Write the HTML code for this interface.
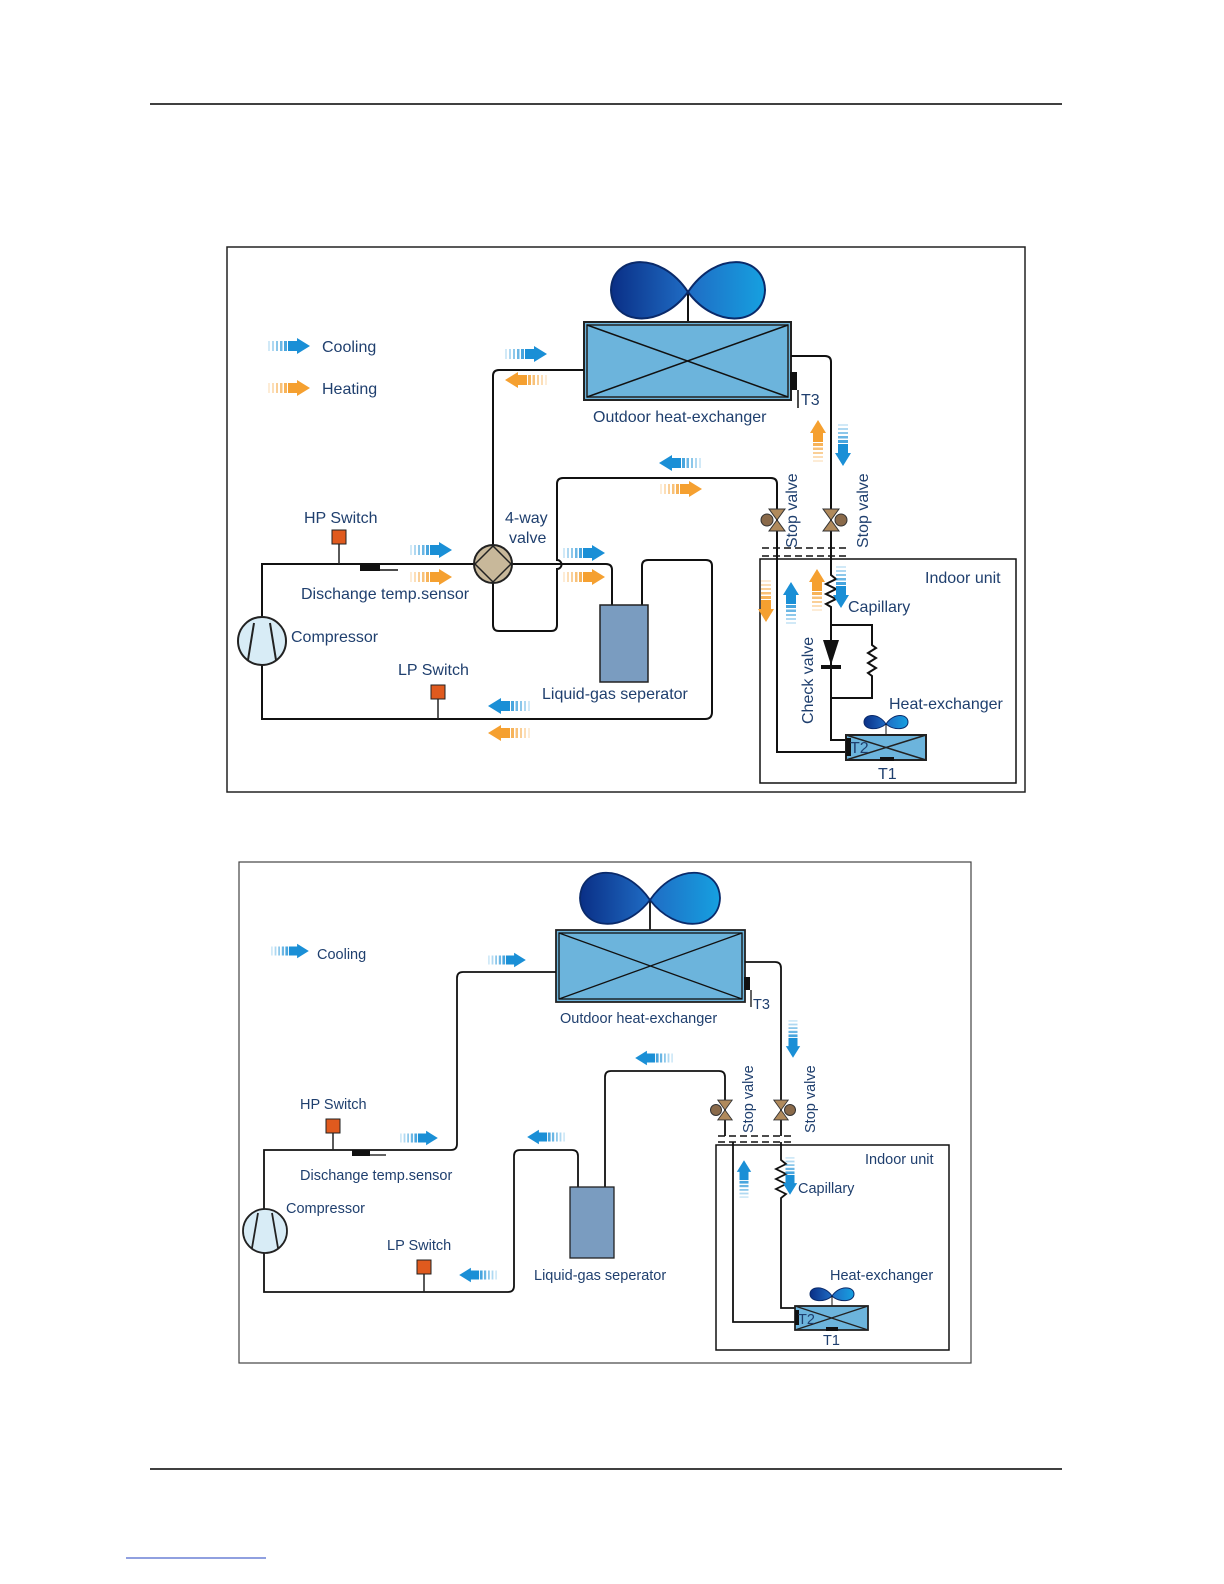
<!DOCTYPE html>
<html><head><meta charset="utf-8"><style>
html,body{margin:0;padding:0;background:#fff}
svg{display:block}
text{font-family:"Liberation Sans",Arial,sans-serif;fill:#1f3f6e}
</style></head><body>
<svg width="1224" height="1584" viewBox="0 0 1224 1584" xmlns="http://www.w3.org/2000/svg">
<defs>
<g id="ab">
<rect x="0" y="-5" width="2" height="10" fill="#1a8fd6" opacity="0.2"/>
<rect x="4" y="-5" width="2" height="10" fill="#1a8fd6" opacity="0.35"/>
<rect x="8" y="-5" width="2" height="10" fill="#1a8fd6" opacity="0.5"/>
<rect x="12" y="-5" width="2.5" height="10" fill="#1a8fd6" opacity="0.65"/>
<rect x="16" y="-5" width="3" height="10" fill="#1a8fd6" opacity="0.8"/>
<rect x="20" y="-5" width="10" height="10" fill="#1a8fd6"/>
<polygon points="29,-8 42,0 29,8" fill="#1a8fd6"/>
</g>
<g id="ao">
<rect x="0" y="-5" width="2" height="10" fill="#f5a030" opacity="0.2"/>
<rect x="4" y="-5" width="2" height="10" fill="#f5a030" opacity="0.35"/>
<rect x="8" y="-5" width="2" height="10" fill="#f5a030" opacity="0.5"/>
<rect x="12" y="-5" width="2.5" height="10" fill="#f5a030" opacity="0.65"/>
<rect x="16" y="-5" width="3" height="10" fill="#f5a030" opacity="0.8"/>
<rect x="20" y="-5" width="10" height="10" fill="#f5a030"/>
<polygon points="29,-8 42,0 29,8" fill="#f5a030"/>
</g>
<linearGradient id="fanL" x1="0" x2="1"><stop offset="0" stop-color="#0a2f86"/><stop offset="1" stop-color="#1f6cc4"/></linearGradient>
<linearGradient id="fanR" x1="0" x2="1"><stop offset="0" stop-color="#1f6cc4"/><stop offset="1" stop-color="#16a0e0"/></linearGradient>
<g id="valve">
<polygon points="-8,-11 8,-11 0,0" fill="#b08a5c" stroke="#333" stroke-width="1"/>
<polygon points="-8,11 8,11 0,0" fill="#b08a5c" stroke="#333" stroke-width="1"/>
</g>
</defs>

<line x1="150" y1="104" x2="1062" y2="104" stroke="#000" stroke-width="1.5"/>
<line x1="150" y1="1469" x2="1062" y2="1469" stroke="#000" stroke-width="1.5"/>
<line x1="126" y1="1558" x2="266" y2="1558" stroke="#2040c0" stroke-width="1"/>

<!-- ============ TOP DIAGRAM ============ -->
<rect x="227" y="247" width="798" height="545" fill="none" stroke="#222" stroke-width="1.5"/>
<g fill="none" stroke="#111" stroke-width="2">
<!-- fan -->
<line x1="688" y1="292" x2="688" y2="322"/>
<path d="M688,292 C660,250 612,255 611,290 C612,325 660,330 688,292Z" fill="url(#fanL)" stroke="#0a2a6a"/>
<path d="M688,292 C716,250 764,255 765,290 C764,325 716,330 688,292Z" fill="url(#fanR)" stroke="#0a2a6a"/>
<!-- outdoor hx -->
<rect x="584" y="322" width="207" height="78" fill="#6cb4dc" stroke="#222"/>
<rect x="587" y="325" width="201" height="72" stroke="#222" stroke-width="1.5"/>
<line x1="587" y1="325" x2="788" y2="397" stroke-width="1.5"/>
<line x1="587" y1="397" x2="788" y2="325" stroke-width="1.5"/>
<!-- right pipe -->
<path d="M791,356 H825 Q831,356 831,362 V548"/>
<!-- left pipe to 4-way -->
<path d="M584,370 H499 Q493,370 493,376 V545"/>
<path d="M493,583 V625 Q493,631 499,631 H551 Q557,631 557,625 V569 A4,4 0 0 0 557,560 V484 Q557,478 563,478 H771 Q777,478 777,484 V752 H846"/>
<!-- 4way to separator -->
<path d="M512,564 H606 Q612,564 612,570 V605"/>
<path d="M642,605 V566 Q642,560 648,560 H706 Q712,560 712,566 V712 Q712,719 705,719 H262 V665"/>
<path d="M262,617 V564 H474"/>
<!-- indoor right -->
<path d="M831,548 V575 l5,4 -10,5 10,5 -10,5 10,5 -10,5 5,3 V740 H846"/>
<path d="M831,625 H872 V645 l4,3 -8,5 8,5 -8,5 8,5 -8,5 4,3 V698 H831"/>
<!-- indoor box -->
<rect x="760" y="559" width="256" height="224" stroke-width="1.5"/>
</g>
<g stroke="#111" stroke-width="1.5" stroke-dasharray="7,4"><line x1="762" y1="548" x2="846" y2="548"/><line x1="762" y1="556" x2="846" y2="556"/></g>
<!-- check valve -->
<polygon points="823,640 839,640 831,665" fill="#111"/>
<rect x="821" y="665" width="20" height="4" fill="#111"/>
<!-- T3 -->
<rect x="790" y="372" width="7" height="18" fill="#111"/>
<line x1="798" y1="390" x2="798" y2="408" stroke="#111" stroke-width="1.5"/>
<!-- 4way valve -->
<circle cx="493" cy="564" r="19" fill="#c8b89a" stroke="#222" stroke-width="2"/>
<polygon points="493,546 511,564 493,582 475,564" fill="#c8b89a" stroke="#222" stroke-width="1.5"/>
<!-- separator -->
<rect x="600" y="605" width="48" height="77" fill="#7a9cc0" stroke="#222" stroke-width="1.5"/>
<!-- compressor -->
<circle cx="262" cy="641" r="24" fill="#d8ecf6" stroke="#222" stroke-width="2"/>
<line x1="248" y1="660" x2="254" y2="623" stroke="#222" stroke-width="2"/>
<line x1="276" y1="660" x2="270" y2="623" stroke="#222" stroke-width="2"/>
<!-- switches -->
<line x1="339" y1="544" x2="339" y2="564" stroke="#222" stroke-width="1.5"/>
<rect x="332" y="530" width="14" height="14" fill="#e05a1e" stroke="#222" stroke-width="1"/>
<line x1="438" y1="699" x2="438" y2="719" stroke="#222" stroke-width="1.5"/>
<rect x="431" y="685" width="14" height="14" fill="#e05a1e" stroke="#222" stroke-width="1"/>
<rect x="360" y="564" width="20" height="7" fill="#111"/>
<line x1="380" y1="570" x2="398" y2="570" stroke="#111" stroke-width="1.5"/>
<!-- stop valves -->
<use href="#valve" transform="translate(777,520)"/>
<circle cx="767" cy="520" r="6" fill="#8a6a4a" stroke="#333"/>
<use href="#valve" transform="translate(831,520)"/>
<circle cx="841" cy="520" r="6" fill="#8a6a4a" stroke="#333"/>
<!-- indoor hx -->
<path d="M886,724 C878,712 864,714 864,722 C864,730 878,731 886,724Z" fill="url(#fanL)" stroke="#0a2a6a"/>
<path d="M886,724 C894,712 908,714 908,722 C908,730 894,731 886,724Z" fill="url(#fanR)" stroke="#0a2a6a"/>
<line x1="886" y1="724" x2="886" y2="735" stroke="#111"/>
<rect x="846" y="735" width="80" height="25" fill="#6cb4dc" stroke="#222" stroke-width="2"/>
<line x1="846" y1="735" x2="926" y2="760" stroke="#222" stroke-width="1.5"/>
<line x1="846" y1="760" x2="926" y2="735" stroke="#222" stroke-width="1.5"/>
<rect x="846" y="738" width="5" height="18" fill="#111"/>
<rect x="880" y="757" width="14" height="4" fill="#111"/>

<g font-size="16">
<text x="322" y="352">Cooling</text>
<text x="322" y="394">Heating</text>
<text x="593" y="422">Outdoor heat-exchanger</text>
<text x="801" y="405">T3</text>
<text x="304" y="523">HP Switch</text>
<text x="505" y="523">4-way</text>
<text x="509" y="543">valve</text>
<text x="301" y="599">Dischange temp.sensor</text>
<text x="291" y="642">Compressor</text>
<text x="398" y="675">LP Switch</text>
<text x="542" y="699">Liquid-gas seperator</text>
<text x="925" y="583">Indoor unit</text>
<text x="848" y="612">Capillary</text>
<text x="889" y="709">Heat-exchanger</text>
<text x="850" y="753">T2</text>
<text x="878" y="779">T1</text>
<text transform="translate(797,548) rotate(-90)">Stop valve</text>
<text transform="translate(868,548) rotate(-90)">Stop valve</text>
<text transform="translate(813,724) rotate(-90)">Check valve</text>
</g>
<!-- top arrows -->
<use href="#ab" transform="translate(268,346)"/>
<use href="#ao" transform="translate(268,388)"/>
<use href="#ab" transform="translate(505,354)"/>
<use href="#ao" transform="translate(547,380) rotate(180)"/>
<use href="#ab" transform="translate(701,463) rotate(180)"/>
<use href="#ao" transform="translate(660,489)"/>
<use href="#ao" transform="translate(818,462) rotate(-90)"/>
<use href="#ab" transform="translate(843,424) rotate(90)"/>
<use href="#ab" transform="translate(410,550)"/>
<use href="#ao" transform="translate(410,577)"/>
<use href="#ab" transform="translate(563,553)"/>
<use href="#ao" transform="translate(563,577)"/>
<use href="#ab" transform="translate(530,706) rotate(180)"/>
<use href="#ao" transform="translate(530,733) rotate(180)"/>
<use href="#ao" transform="translate(766,580) rotate(90)"/>
<use href="#ab" transform="translate(791,624) rotate(-90)"/>
<use href="#ao" transform="translate(817,611) rotate(-90)"/>
<use href="#ab" transform="translate(841,566) rotate(90)"/>

<!-- ============ BOTTOM DIAGRAM ============ -->
<rect x="239" y="862" width="732" height="501" fill="none" stroke="#444" stroke-width="1.2"/>
<g fill="none" stroke="#111" stroke-width="1.8">
<line x1="650" y1="900" x2="650" y2="930"/>
<path d="M650,900 C624,862 581,866 580,898 C581,930 624,934 650,900Z" fill="url(#fanL)" stroke="#0a2a6a"/>
<path d="M650,900 C676,862 719,866 720,898 C719,930 676,934 650,900Z" fill="url(#fanR)" stroke="#0a2a6a"/>
<rect x="556" y="930" width="189" height="72" fill="#6cb4dc" stroke="#222"/>
<rect x="559" y="933" width="183" height="66" stroke-width="1.3"/>
<line x1="559" y1="933" x2="742" y2="999" stroke-width="1.3"/>
<line x1="559" y1="999" x2="742" y2="933" stroke-width="1.3"/>
<path d="M745,962 H775 Q781,962 781,968 V1136"/>
<path d="M556,972 H463 Q457,972 457,978 V1144 Q457,1150 451,1150 H264 V1209"/>
<path d="M264,1253 V1292 H508 Q514,1292 514,1286 V1156 Q514,1150 520,1150 H572 Q578,1150 578,1156 V1187"/>
<path d="M605,1187 V1077 Q605,1071 611,1071 H719 Q725,1071 725,1077 V1136"/>
<path d="M733,1142 V1322 H795"/>
<path d="M781,1142 V1160 l5,4 -10,5 10,5 -10,5 10,5 -10,5 10,5 -5,4 V1308 H795"/>
<rect x="716" y="1145" width="233" height="205" stroke-width="1.5"/>
</g>
<g stroke="#111" stroke-width="1.5" stroke-dasharray="7,4"><line x1="718" y1="1136" x2="795" y2="1136"/><line x1="718" y1="1142" x2="795" y2="1142"/></g>
<rect x="744" y="977" width="6" height="13" fill="#111"/>
<line x1="751" y1="990" x2="751" y2="1007" stroke="#111" stroke-width="1.3"/>
<rect x="570" y="1187" width="44" height="71" fill="#7a9cc0" stroke="#222" stroke-width="1.3"/>
<circle cx="265" cy="1231" r="22" fill="#d8ecf6" stroke="#222" stroke-width="1.8"/>
<line x1="252" y1="1248" x2="258" y2="1213" stroke="#222" stroke-width="1.8"/>
<line x1="278" y1="1248" x2="272" y2="1213" stroke="#222" stroke-width="1.8"/>
<line x1="333" y1="1133" x2="333" y2="1150" stroke="#222" stroke-width="1.5"/>
<rect x="326" y="1119" width="14" height="14" fill="#e05a1e" stroke="#222" stroke-width="1"/>
<line x1="424" y1="1274" x2="424" y2="1292" stroke="#222" stroke-width="1.5"/>
<rect x="417" y="1260" width="14" height="14" fill="#e05a1e" stroke="#222" stroke-width="1"/>
<rect x="352" y="1150" width="18" height="6" fill="#111"/>
<line x1="370" y1="1155" x2="386" y2="1155" stroke="#111" stroke-width="1.3"/>
<use href="#valve" transform="translate(725,1110) scale(0.9)"/>
<circle cx="716" cy="1110" r="5.5" fill="#8a6a4a" stroke="#333"/>
<use href="#valve" transform="translate(781,1110) scale(0.9)"/>
<circle cx="790" cy="1110" r="5.5" fill="#8a6a4a" stroke="#333"/>
<path d="M832,1296 C825,1285 810,1286 810,1294 C810,1302 825,1303 832,1296Z" fill="url(#fanL)" stroke="#0a2a6a"/>
<path d="M832,1296 C839,1285 854,1286 854,1294 C854,1302 839,1303 832,1296Z" fill="url(#fanR)" stroke="#0a2a6a"/>
<line x1="832" y1="1296" x2="832" y2="1306" stroke="#111"/>
<rect x="795" y="1306" width="73" height="24" fill="#6cb4dc" stroke="#222" stroke-width="1.8"/>
<line x1="795" y1="1306" x2="868" y2="1330" stroke="#222" stroke-width="1.3"/>
<line x1="795" y1="1330" x2="868" y2="1306" stroke="#222" stroke-width="1.3"/>
<rect x="795" y="1310" width="4" height="15" fill="#111"/>
<rect x="826" y="1327" width="12" height="4" fill="#111"/>

<g font-size="14.5">
<text x="317" y="959">Cooling</text>
<text x="560" y="1023">Outdoor heat-exchanger</text>
<text x="753" y="1009">T3</text>
<text x="300" y="1109">HP Switch</text>
<text x="300" y="1180">Dischange temp.sensor</text>
<text x="286" y="1213">Compressor</text>
<text x="387" y="1250">LP Switch</text>
<text x="534" y="1280">Liquid-gas seperator</text>
<text x="865" y="1164">Indoor unit</text>
<text x="798" y="1193">Capillary</text>
<text x="830" y="1280">Heat-exchanger</text>
<text x="798" y="1324">T2</text>
<text x="823" y="1345">T1</text>
<text transform="translate(753,1133) rotate(-90)">Stop valve</text>
<text transform="translate(815,1133) rotate(-90)">Stop valve</text>
</g>
<use href="#ab" transform="translate(271,951) scale(0.9)"/>
<use href="#ab" transform="translate(488,960) scale(0.9)"/>
<use href="#ab" transform="translate(793,1020) rotate(90) scale(0.9)"/>
<use href="#ab" transform="translate(673,1058) rotate(180) scale(0.9)"/>
<use href="#ab" transform="translate(400,1138) scale(0.9)"/>
<use href="#ab" transform="translate(565,1137) rotate(180) scale(0.9)"/>
<use href="#ab" transform="translate(497,1275) rotate(180) scale(0.9)"/>
<use href="#ab" transform="translate(744,1198) rotate(-90) scale(0.9)"/>
<use href="#ab" transform="translate(790,1157) rotate(90) scale(0.9)"/>
</svg>
</body></html>
